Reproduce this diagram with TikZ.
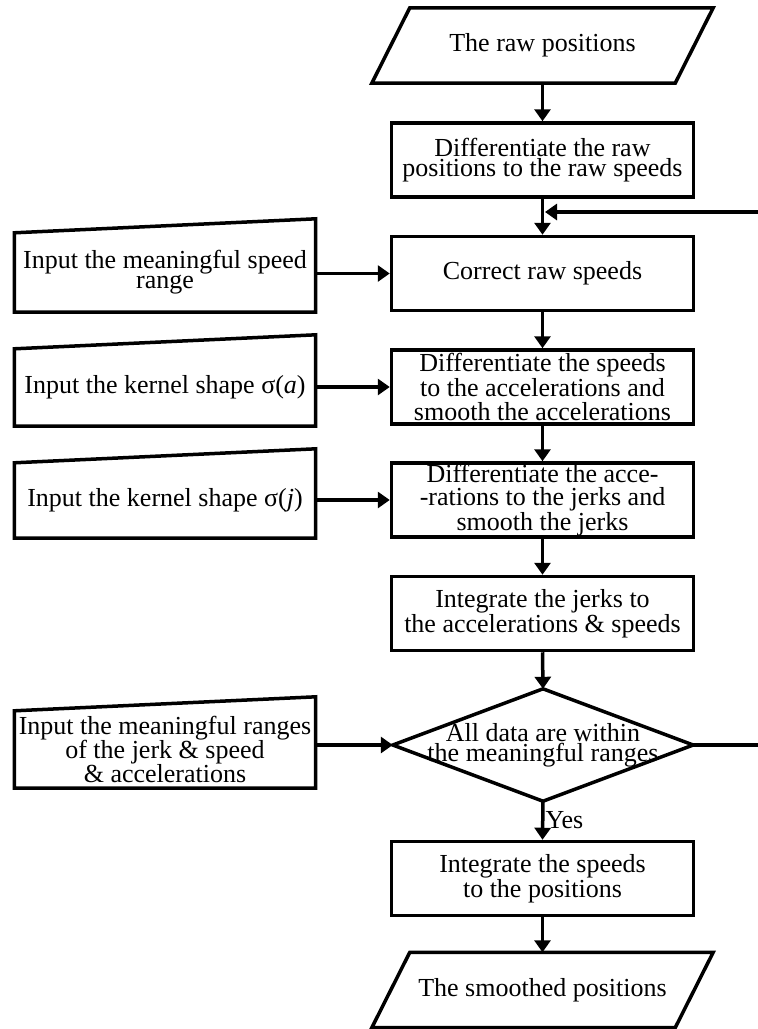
\documentclass[tikz,border=0pt]{standalone}
\usepackage{fontspec}
\setmainfont{Liberation Serif}
\usetikzlibrary{arrows.meta}

\newcommand{\flowfont}[1]{\fontsize{26}{#1}\selectfont}

\tikzset{
  proc/.style={draw, line width=3.5pt, minimum width=302pt, minimum height=74pt,
               inner sep=0pt, align=center, font=\flowfont{20}},
  io/.style={minimum width=303pt, minimum height=75pt, inner sep=0pt,
             align=center, font=\flowfont{20}},
  inbox/.style={minimum width=301pt, inner sep=0pt, align=center, font=\flowfont{20}},
  outline/.style={line width=3.5pt, line join=miter},
  flow/.style={line width=3.5pt, -{Triangle[length=12pt,width=16pt]}},
}

\begin{document}
\begin{tikzpicture}[x=1pt, y=-1pt]
  \clip (0,0) rectangle (758,1029);
  \fill[white] (0,0) rectangle (758,1029);

  % main column
  \node[io] (start) at (542.5,45.5) {The raw positions};
  \draw[outline] ([xshift=-19pt]start.south west) -- ([xshift=19pt]start.north west)
        -- ([xshift=19pt]start.north east) -- ([xshift=-19pt]start.south east) -- cycle;

  \node[proc] (diffpos) at (542.5,160) {Differentiate the raw\\positions to the raw speeds};
  \node[proc] (correct) at (542.5,273.5) {Correct raw speeds};
  \node[proc, font=\flowfont{23.5}] (diffspd) at (542.5,387)
        {Differentiate the speeds\\to the accelerations and\\smooth the accelerations};
  \node[proc, font=\flowfont{23.5}] (diffacc) at (542.5,500)
        {Differentiate the acce-\\-rations to the jerks and\\smooth the jerks};
  \node[proc, font=\flowfont{23}] (integ) at (542.5,613.5)
        {Integrate the jerks to\\the accelerations \& speeds};

  \node[minimum width=300pt, minimum height=112pt, inner sep=0pt, align=center,
        font=\flowfont{18}] (check) at (543,745) {All data are within\\the meaningful ranges};
  \draw[outline] (check.north) -- (check.east) -- (check.south) -- (check.west) -- cycle;

  \node[proc] (integspd) at (542.5,878.5) {Integrate the speeds\\to the positions};

  \node[io] (finish) at (542.5,990) {The smoothed positions};
  \draw[outline] ([xshift=-19pt]finish.south west) -- ([xshift=19pt]finish.north west)
        -- ([xshift=19pt]finish.north east) -- ([xshift=-19pt]finish.south east) -- cycle;

  % manual inputs on the left
  \node[inbox, minimum height=79pt] (inspd) at (165,272.5)
        {Input the meaningful speed\\range};
  \node[inbox, minimum height=77pt] (inka) at (165,387.5)
        {Input the kernel shape σ(\textit{a})};
  \node[inbox, minimum height=75pt] (inkj) at (165,500.5)
        {Input the kernel shape σ(\textit{j})};
  \node[inbox, minimum height=77pt, font=\flowfont{24}] (inrng) at (165,749.5)
        {Input the meaningful ranges\\of the jerk \& speed\\\& accelerations};
  \foreach \n in {inspd,inka,inkj,inrng}{
    \draw[outline] (\n.south west) -- (\n.north west) -- ([yshift=14pt]\n.north east)
          -- (\n.south east) -- cycle;
  }

  % connectors
  \coordinate (back) at (545,212);
  \draw[flow] (start.south) -- (diffpos.north);
  \draw[flow] (diffpos.south) -- (correct.north);
  \draw[flow] (correct.south) -- (diffspd.north);
  \draw[flow] (diffspd.south) -- (diffacc.north);
  \draw[flow] (diffacc.south) -- (integ.north);
  \draw[flow] (integ.south) -- (check.north);
  \draw[flow] (check.south) -- node[anchor=west, inner sep=0pt, xshift=1pt,
        font=\flowfont{20}] {Yes} (integspd.north);
  \draw[flow] (integspd.south) -- (finish.north);
  \draw[flow] (check.east) -- (763,745) |- (back);

  \draw[flow] (inspd.east |- correct.west) -- (correct.west);
  \draw[flow] (inka.east |- diffspd.west) -- (diffspd.west);
  \draw[flow] (inkj.east |- diffacc.west) -- (diffacc.west);
  \draw[flow] (inrng.east |- check.west) -- (check.west);
\end{tikzpicture}
\end{document}
